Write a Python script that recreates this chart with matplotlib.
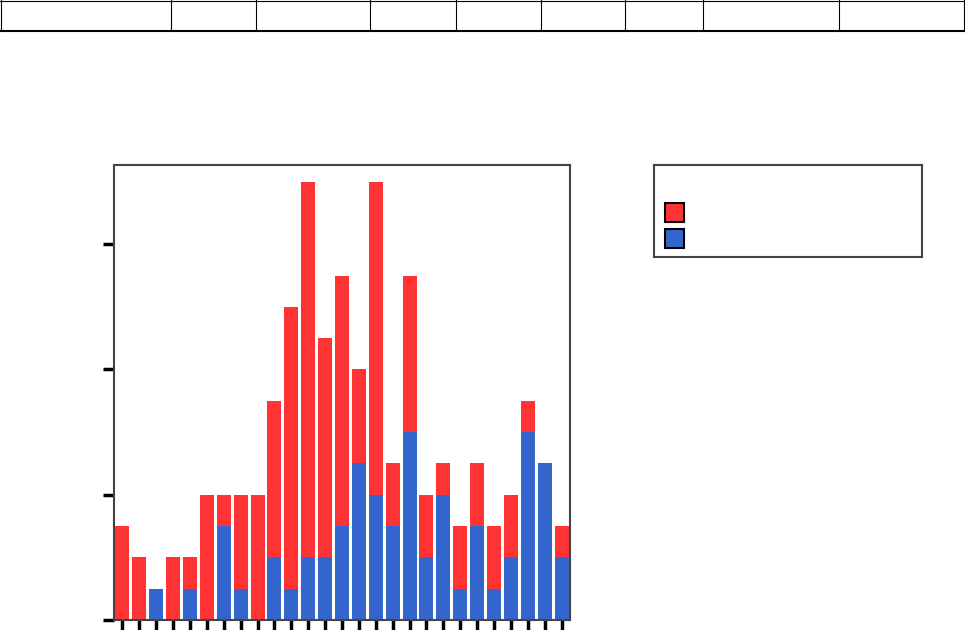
import matplotlib
matplotlib.use("Agg")
import matplotlib.pyplot as plt
from matplotlib.patches import Rectangle
import numpy as np

# Data
categories = list(range(27))
blue_vals = [0, 0, 1, 0, 1, 0, 3, 1, 0, 2, 1, 2, 2, 3, 5, 4, 3, 6, 2, 4, 1, 3, 1, 2, 6, 5, 2]
total_vals = [3, 2, 1, 2, 2, 4, 4, 4, 4, 7, 10, 14, 9, 11, 8, 14, 5, 11, 4, 5, 3, 5, 3, 4, 7, 5, 3]
red_vals = [t - b for t, b in zip(total_vals, blue_vals)]
y_ticks = [0, 4, 8, 12]
table_cols = [0, 170, 255, 369, 455, 540, 624, 702, 838, 963]

RED = "#FF3333"
BLUE = "#3366CC"
W, H = 965, 630

fig = plt.figure(figsize=(9.65, 6.3), dpi=100)

# main axes
ax = fig.add_axes([114 / W, (H - 620) / H, 456 / W, 455 / H])
x = np.arange(len(categories))
ax.bar(x, blue_vals, width=0.83, color=BLUE, linewidth=0)
ax.bar(x, red_vals, bottom=blue_vals, width=0.83, color=RED, linewidth=0)
ax.set_xlim(-0.5, len(categories) - 0.5)
ax.set_ylim(0, 14.53)
ax.set_yticks(y_ticks)
ax.set_xticks(x)
ax.set_yticklabels([])
ax.set_xticklabels([])
ax.tick_params(axis="both", direction="out", length=8, width=2.5, color="black")
for s in ax.spines.values():
    s.set_color("#444444")
    s.set_linewidth(1.5)

# legend box (manual)
lax = fig.add_axes([654 / W, (H - 257) / H, 268 / W, 92 / H])
lax.set_xlim(0, 268)
lax.set_ylim(92, 0)
lax.set_xticks([])
lax.set_yticks([])
for s in lax.spines.values():
    s.set_color("#444444")
    s.set_linewidth(1.5)
for y0, c in [(38, RED), (64, BLUE)]:
    lax.add_patch(Rectangle((11, y0), 19, 19, facecolor=c, edgecolor="black", linewidth=1.5))

# top table row
tax = fig.add_axes([0, 0, 1, 1], zorder=-1)
tax.set_xlim(0, W)
tax.set_ylim(H, 0)
tax.axis("off")
tax.plot([0, 963], [0.5, 0.5], color="black", lw=0.8)
tax.plot([0, 963], [30.5, 30.5], color="black", lw=1.5)
for cx in table_cols:
    tax.plot([cx + 0.5, cx + 0.5], [0, 31], color="black", lw=0.8)

fig.savefig("out.png", dpi=100)
